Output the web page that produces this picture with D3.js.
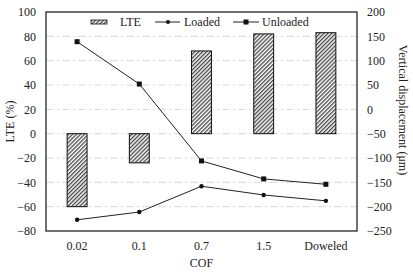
<!DOCTYPE html>
<html><head><meta charset="utf-8">
<script src="https://cdn.jsdelivr.net/npm/d3@7"></script>
<style>body{margin:0;background:#fff}svg{display:block}</style>
</head><body><svg id="c" width="413" height="279"></svg>
<script>
const categories = ["0.02","0.1","0.7","1.5","Doweled"];
const lte = [-60,-24,68,82,83];
const loaded = [-227,-211,-158,-176,-188];
const unloaded = [139,52,-106,-143,-154];
const leftTicks = [-80,-60,-40,-20,0,20,40,60,80,100];
const rightTicks = [-250,-200,-150,-100,-50,0,50,100,150,200];

const FF = '"Liberation Serif"';
const svg = d3.select("#c");
const L=46,R=357,T=12,B=231;
const x = d3.scaleBand().domain(categories).range([L,R]).paddingInner(0.68).paddingOuter(0.34);
const yL = d3.scaleLinear().domain([-80,100]).range([B,T]);
const yR = d3.scaleLinear().domain([-250,200]).range([B,T]);
const cx = d => x(d)+x.bandwidth()/2;

const defs = svg.append("defs");
const pat = defs.append("pattern").attr("id","hatch").attr("patternUnits","userSpaceOnUse")
  .attr("width",2.8).attr("height",2.8).attr("patternTransform","rotate(45)");
pat.append("rect").attr("width",2.8).attr("height",2.8).attr("fill","#fff");
pat.append("line").attr("x1",0.7).attr("y1",0).attr("x2",0.7).attr("y2",2.8).attr("stroke","#222").attr("stroke-width",1.1);

// gridlines
svg.append("g").selectAll("line").data(leftTicks.filter(v=>v>-80&&v<100)).join("line")
  .attr("x1",L).attr("x2",R).attr("y1",d=>yL(d)).attr("y2",d=>yL(d))
  .attr("stroke","#d9d9d9").attr("stroke-width",1).attr("stroke-dasharray","8,3,2,3");

// bars
svg.append("g").selectAll("rect").data(categories).join("rect")
  .attr("x",d=>x(d)).attr("width",x.bandwidth())
  .attr("y",(d,i)=>yL(Math.max(0,lte[i]))).attr("height",(d,i)=>Math.abs(yL(lte[i])-yL(0)))
  .attr("fill","url(#hatch)").attr("stroke","#111").attr("stroke-width",1);

// lines
const line = d3.line().x((d,i)=>cx(categories[i])).y(d=>yR(d));
svg.append("path").datum(loaded).attr("d",line).attr("fill","none").attr("stroke","#222").attr("stroke-width",1);
svg.append("path").datum(unloaded).attr("d",line).attr("fill","none").attr("stroke","#222").attr("stroke-width",1);
svg.append("g").selectAll("circle").data(loaded).join("circle")
  .attr("cx",(d,i)=>cx(categories[i])).attr("cy",d=>yR(d)).attr("r",2.2).attr("fill","#111");
svg.append("g").selectAll("rect").data(unloaded).join("rect")
  .attr("x",(d,i)=>cx(categories[i])-2.5).attr("y",d=>yR(d)-2.5).attr("width",5).attr("height",5).attr("fill","#111");

// frame
svg.append("rect").attr("x",L).attr("y",T).attr("width",R-L).attr("height",B-T).attr("fill","none").attr("stroke","#111").attr("stroke-width",1.2);

// axes
const fs = "12px";
const axL = svg.append("g").attr("transform",`translate(${L},0)`).call(d3.axisLeft(yL).tickValues(leftTicks).tickSize(0).tickPadding(10));
const axR = svg.append("g").attr("transform",`translate(${R},0)`).call(d3.axisRight(yR).tickValues(rightTicks).tickSize(0).tickPadding(10));
const axB = svg.append("g").attr("transform",`translate(0,${B})`).call(d3.axisBottom(x).tickSize(0).tickPadding(10));
[axL,axR,axB].forEach(a=>{a.select(".domain").remove();a.attr("font-family",null).attr("font-size",null);});
axB.selectAll("text").attr("dy","0.71em");

// titles
const title = (t)=>svg.append("text").attr("text-anchor","middle").text(t);
title("COF").attr("x",(L+R)/2).attr("y",267);
title("LTE (%)").attr("transform",`translate(14,${(T+B)/2}) rotate(-90)`);
title("Vertical displacement (μm)").attr("transform",`translate(399,110) rotate(90)`);

// legend
const lg = svg.append("g");
const ly = 22;
lg.append("rect").attr("x",91).attr("y",ly-2).attr("width",16).attr("height",4).attr("fill","url(#hatch)").attr("stroke","#111").attr("stroke-width",0.8);
lg.append("text").attr("x",120).attr("y",ly).attr("dy","0.35em").text("LTE");
lg.append("line").attr("x1",155).attr("x2",180).attr("y1",ly).attr("y2",ly).attr("stroke","#222");
lg.append("circle").attr("cx",168).attr("cy",ly).attr("r",2).attr("fill","#111");
lg.append("text").attr("x",184).attr("y",ly).attr("dy","0.35em").text("Loaded");
lg.append("line").attr("x1",233).attr("x2",259).attr("y1",ly).attr("y2",ly).attr("stroke","#222");
lg.append("rect").attr("x",243.5).attr("y",ly-2.5).attr("width",5).attr("height",5).attr("fill","#111");
lg.append("text").attr("x",262).attr("y",ly).attr("dy","0.35em").text("Unloaded");

svg.selectAll("text").style("font-family",FF).style("font-size",fs).style("fill","#222");
</script></body></html>
